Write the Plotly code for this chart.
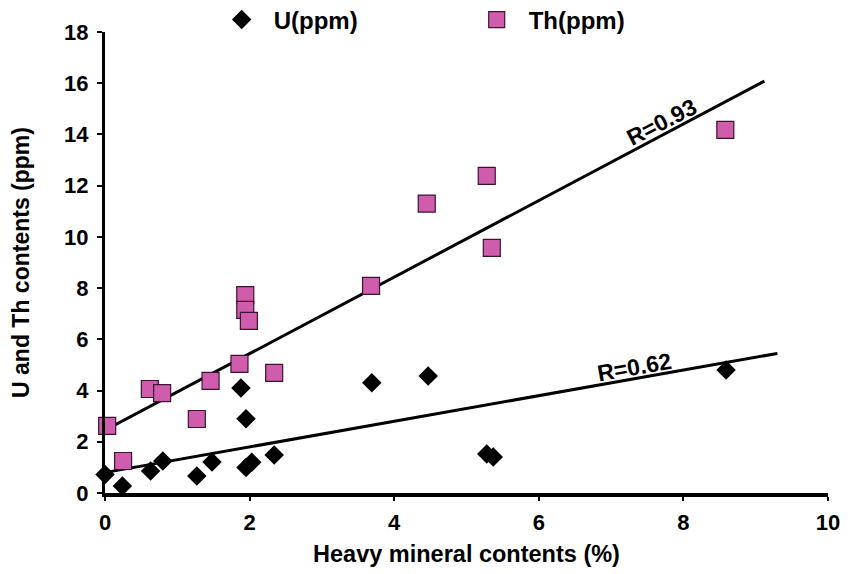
import plotly.graph_objects as go

# Heavy mineral content (%) for each sample
u_x = [0.0, 0.24, 0.63, 0.80, 1.27, 1.48, 1.88, 1.95, 1.95, 2.03, 2.34, 3.69, 4.47, 5.28, 5.37, 8.59]
u_ppm = [0.72, 0.27, 0.86, 1.25, 0.66, 1.21, 4.10, 2.90, 1.00, 1.20, 1.48, 4.30, 4.57, 1.52, 1.41, 4.80]

th_x = [0.03, 0.25, 0.62, 0.79, 1.27, 1.46, 1.86, 1.94, 1.94, 1.99, 2.34, 3.68, 4.45, 5.28, 5.35, 8.58]
th_ppm = [2.62, 1.25, 4.06, 3.90, 2.89, 4.38, 5.04, 7.73, 7.15, 6.72, 4.69, 8.09, 11.30, 12.38, 9.57, 14.18]

# Trend lines (intercept, slope) and x-extent
u_fit = [0.80, 0.50]
u_fit_x = [0.05, 9.30]
th_fit = [2.45, 1.495]
th_fit_x = [0.0, 9.12]

r_labels = ["R=0.93", "R=0.62"]

FONT = "Liberation Sans, Arial, sans-serif"

fig = go.Figure()

fig.add_trace(go.Scatter(
    x=th_fit_x, y=[th_fit[0] + th_fit[1] * v for v in th_fit_x],
    mode="lines", line=dict(color="black", width=3), showlegend=False, hoverinfo="skip"))
fig.add_trace(go.Scatter(
    x=u_fit_x, y=[u_fit[0] + u_fit[1] * v for v in u_fit_x],
    mode="lines", line=dict(color="black", width=3), showlegend=False, hoverinfo="skip"))

fig.add_trace(go.Scatter(
    x=u_x, y=u_ppm, mode="markers", name="\u2002U(ppm)",
    marker=dict(symbol="diamond", size=15, color="black", line=dict(color="black", width=0)),
    cliponaxis=False))
fig.add_trace(go.Scatter(
    x=th_x, y=th_ppm, mode="markers", name="\u2002Th(ppm)",
    marker=dict(symbol="square", size=17, color="#d05cae", line=dict(color="#3a1530", width=1.2)),
    cliponaxis=False))

fig.add_annotation(x=7.70, y=14.5, text=r_labels[0], showarrow=False, textangle=-27,
                   font=dict(family=FONT, size=23, color="black", weight="bold"))
fig.add_annotation(x=7.33, y=4.92, text=r_labels[1], showarrow=False, textangle=-10,
                   font=dict(family=FONT, size=23, color="black", weight="bold"))

fig.update_layout(
    width=840, height=566,
    margin=dict(l=97, r=20, t=24, b=81, autoexpand=False),
    paper_bgcolor="white", plot_bgcolor="white",
    font=dict(family=FONT, size=22, color="black", weight="bold"),
    legend=dict(orientation="h", x=213.7 / 840, y=1 - 12 / 566, xref="container", yref="container",
                xanchor="left", yanchor="middle",
                font=dict(family=FONT, size=24, color="black", weight="bold"),
                entrywidth=210, bgcolor="rgba(0,0,0,0)"),
    xaxis=dict(range=[0, 10], tickvals=[0, 2, 4, 6, 8, 10], showgrid=False, zeroline=False,
               automargin=False, ticklabelstandoff=3,
               showline=True, linecolor="black", linewidth=3.5, ticks="outside", ticklen=4,
               tickwidth=1.5, tickcolor="black",
               tickfont=dict(family=FONT, size=22, weight="bold"),
               title=dict(text="Heavy mineral contents (%)", standoff=12,
                          font=dict(family=FONT, size=23.5, weight="bold"))),
    yaxis=dict(range=[0, 18], tickvals=list(range(0, 19, 2)), showgrid=False, zeroline=False,
               automargin=False, ticklabelstandoff=4,
               showline=True, linecolor="black", linewidth=3, ticks="outside", ticklen=5,
               tickwidth=1.5, tickcolor="black",
               tickfont=dict(family=FONT, size=22, weight="bold"),
               title=dict(text="U and Th contents (ppm)", standoff=34,
                          font=dict(family=FONT, size=23, weight="bold"))),
)

fig.write_html("out.html")
